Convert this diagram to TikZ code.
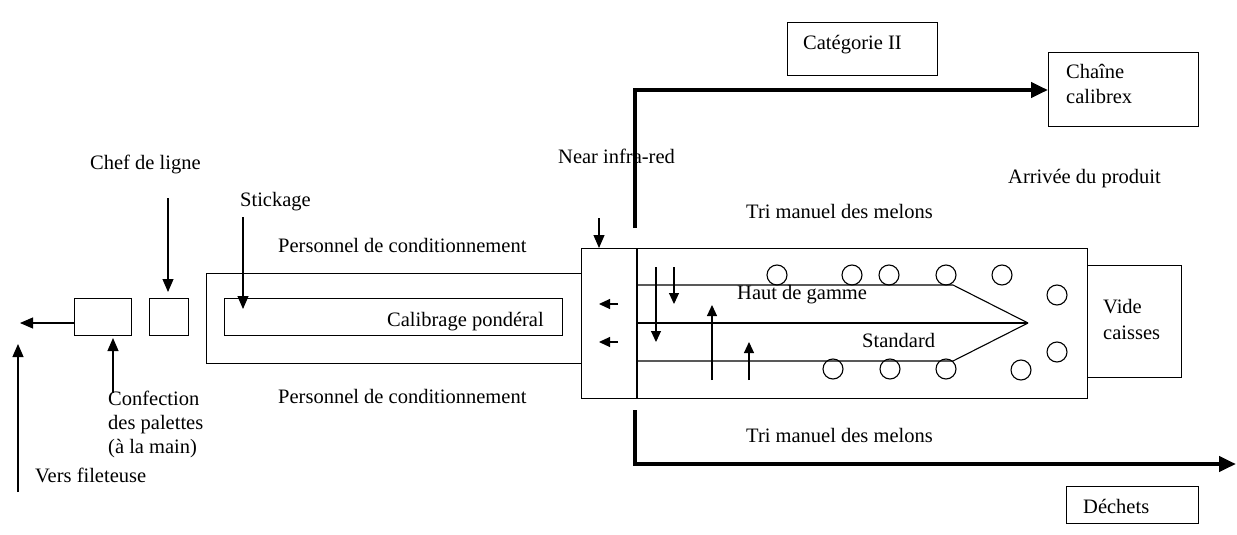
\documentclass[tikz,border=0pt]{standalone}
\usepackage{fontspec}
\setmainfont{Liberation Serif}
\usetikzlibrary{arrows.meta}
\begin{document}
\begin{tikzpicture}[x=1pt,y=-1pt,
  every node/.style={font=\fontsize{20.5}{24}\selectfont},
  box/.style={draw, line width=1.1pt, rectangle, inner sep=0pt, anchor=north west},
  ring/.style={draw, line width=1.1pt, circle, inner sep=0pt, minimum size=20pt},
  lbl/.style={anchor=base west, inner sep=0pt},
  thin/.style={line width=1.1pt},
  tarrow/.style={line width=1.1pt, -{Triangle[length=13pt,width=11pt]}},
  sarrow/.style={line width=1.1pt, -{Triangle[length=11pt,width=10pt]}},
  bigarrow/.style={line width=4.5pt, -{Triangle[length=17pt,width=15pt]}}]
\useasboundingbox (0,0) rectangle (1237,535);

% boxes
\node[box, minimum width=150pt, minimum height=53pt] (cat) at (787,22) {};
\node[box, minimum width=150pt, minimum height=74pt] (chaine) at (1048,52) {};
\node[box, minimum width=132pt, minimum height=37pt] (dechets) at (1066,486) {};
\node[box, minimum width=506pt, minimum height=150pt] (main) at (581,248) {};
\node[box, minimum width=94pt, minimum height=112pt] (vide) at (1087,265) {};
\node[box, minimum width=375pt, minimum height=90pt] (outer) at (206,273) {};
\node[box, minimum width=338pt, minimum height=37pt] (calib) at (224,298) {};
\node[box, minimum width=57pt, minimum height=37pt] (b1) at (74,298) {};
\node[box, minimum width=39pt, minimum height=37pt] (b2) at (149,298) {};

% divider and lanes
\coordinate (dtop) at (637,248);
\coordinate (dbot) at (637,398);
\draw[thin] (dtop) -- (dbot);
\coordinate (tip) at (1028,323);
\coordinate (l1a) at (637,285); \coordinate (l1b) at (953,285);
\coordinate (l2a) at (637,323);
\coordinate (l3a) at (637,361); \coordinate (l3b) at (953,361);
\draw[thin] (l1a) -- (l1b) -- (tip);
\draw[thin] (l2a) -- (tip);
\draw[thin] (l3a) -- (l3b) -- (tip);

% circles
\foreach \n/\x/\y in {c1/777/275,c2/852/275,c3/889/275,c4/946/275,c5/1002/275,
  c6/1057/295,c7/1057/352,c8/833/369,c9/890/369,c10/946/369,c11/1021/370}
  \node[ring] (\n) at (\x,\y) {};

% texts
\node[lbl] (tcat) at (803,49) {Catégorie II};
\node[lbl] (tch1) at (1066,78) {Chaîne};
\node[lbl] (tch2) at (1066,103) {calibrex};
\node[lbl] (tnir) at (558,163) {Near infra-red};
\node[lbl] (tarr) at (1008,183) {Arrivée du produit};
\node[lbl] (ttri1) at (746,218) {Tri manuel des melons};
\node[lbl] (ttri2) at (746,442) {Tri manuel des melons};
\node[lbl] (tchef) at (90,169) {Chef de ligne};
\node[lbl] (tstick) at (240,206) {Stickage};
\node[lbl] (tpers1) at (278,252) {Personnel de conditionnement};
\node[lbl] (tpers2) at (278,403) {Personnel de conditionnement};
\node[lbl] (tcal) at (387,326) {Calibrage pondéral};
\node[lbl] (thaut) at (737,299) {Haut de gamme};
\node[lbl] (tstd) at (862,347) {Standard};
\node[lbl] (tvide1) at (1103,313) {Vide};
\node[lbl] (tvide2) at (1103,339) {caisses};
\node[lbl] (tconf1) at (108,405) {Confection};
\node[lbl] (tconf2) at (108,429) {des palettes};
\node[lbl] (tconf3) at (108,453) {(à la main)};
\node[lbl] (tvers) at (35,482) {Vers fileteuse};
\node[lbl] (tdech) at (1083,513) {Déchets};

% thin arrows
\coordinate (out1) at (20,323);
\draw[tarrow] (b1.west |- out1) -- (out1);
\coordinate (up1s) at (113,393); \coordinate (up1e) at (113,338);
\draw[tarrow] (up1s) -- (up1e);
\coordinate (v0s) at (18,492); \coordinate (v0e) at (18,344);
\draw[tarrow] (v0s) -- (v0e);
\coordinate (chefs) at (168,198); \coordinate (chefe) at (168,292);
\draw[tarrow] (chefs) -- (chefe);
\coordinate (sticks) at (243,217); \coordinate (sticke) at (243,309);
\draw[tarrow] (sticks) -- (sticke);
\coordinate (nirs) at (599,218);
\draw[tarrow] (nirs) -- (nirs |- main.north);

% arrows in the main box
\coordinate (la1s) at (618,304); \coordinate (la1e) at (599,304);
\coordinate (la2s) at (618,342); \coordinate (la2e) at (599,342);
\draw[sarrow] (la1s) -- (la1e);
\draw[sarrow] (la2s) -- (la2e);
\coordinate (d1s) at (656,267); \coordinate (d1e) at (656,342);
\coordinate (d2s) at (674,267); \coordinate (d2e) at (674,304);
\coordinate (u1s) at (712,380); \coordinate (u1e) at (712,305);
\coordinate (u2s) at (749,380); \coordinate (u2e) at (749,342);
\draw[sarrow] (d1s) -- (d1e);
\draw[sarrow] (d2s) -- (d2e);
\draw[sarrow] (u1s) -- (u1e);
\draw[sarrow] (u2s) -- (u2e);

% thick arrows
\coordinate (t1s) at (635,228); \coordinate (t1c) at (635,90);
\draw[bigarrow] (t1s) -- (t1c) -- (chaine.west |- t1c);
\coordinate (t2s) at (635,410); \coordinate (t2c) at (635,464); \coordinate (t2e) at (1236,464);
\draw[bigarrow] (t2s) -- (t2c) -- (t2e);
\end{tikzpicture}
\end{document}
